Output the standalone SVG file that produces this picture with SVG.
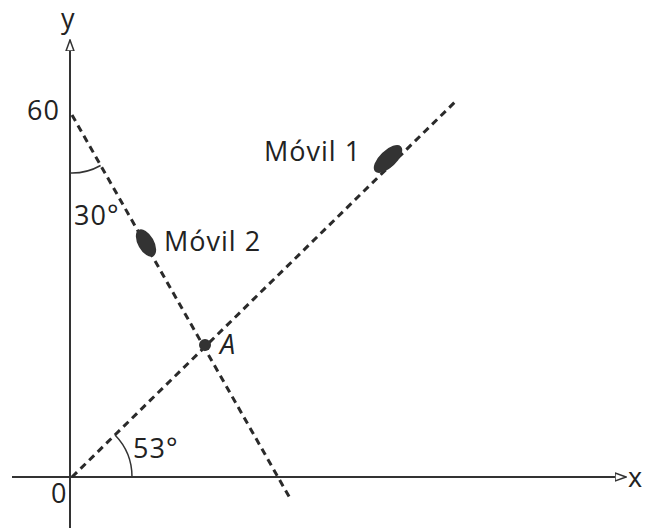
<svg xmlns="http://www.w3.org/2000/svg" width="647" height="529" viewBox="0 0 647 529">
<style>
text{font-family:"Open Sans","Liberation Sans",sans-serif;font-size:27px;letter-spacing:1px;fill:#222}
.axis{stroke:#333;stroke-width:2;fill:none}
.dash{stroke:#2a2a2a;stroke-width:3;stroke-dasharray:7 5;fill:none}
.arc{stroke:#333;stroke-width:1.5;fill:none}
.body{fill:#333}
</style>
<defs>
<marker id="ah" markerWidth="12" markerHeight="10" refX="11" refY="5" orient="auto" markerUnits="userSpaceOnUse">
<path d="M0,1 L11,5 L0,9 Z" fill="#fff" stroke="#333" stroke-width="1.5"/>
</marker>
</defs>
<g id="axes">
<line class="axis" x1="70" y1="528" x2="70" y2="40" marker-end="url(#ah)"/>
<line class="axis" x1="12" y1="477" x2="626" y2="477" marker-end="url(#ah)"/>
<text x="61" y="28">y</text>
<text x="628" y="487">x</text>
<text x="51" y="503">0</text>
<text x="27" y="120">60</text>
</g>
<g id="connectors">
<line class="dash" x1="72" y1="115" x2="291" y2="500"/>
<line class="dash" x1="72" y1="477" x2="457" y2="100"/>
<path class="arc" d="M70,173 A58,58 0 0 0 100.6,165.5"/>
<path class="arc" d="M115,435 A60,60 0 0 1 132,477"/>
</g>
<g id="movil2">
<ellipse class="body" cx="146" cy="243" rx="15" ry="8" transform="rotate(60.5 146 243)"/>
<text x="164" y="251">Móvil 2</text>
</g>
<g id="movil1">
<ellipse class="body" cx="388" cy="159" rx="18" ry="8.5" transform="rotate(-44 388 159)"/>
<text x="264" y="161">Móvil 1</text>
</g>
<g id="pointA">
<circle class="body" cx="205" cy="345" r="6"/>
<text x="220" y="354" font-style="italic">A</text>
</g>
<g id="angles">
<text x="74" y="225">30°</text>
<text x="133" y="458">53°</text>
</g>
</svg>
